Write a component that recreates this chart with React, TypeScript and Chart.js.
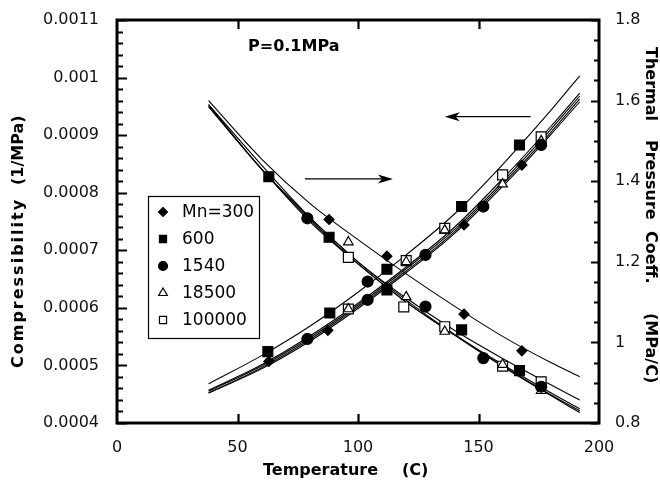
import React, { useEffect, useRef } from "react";
import { Chart, registerables } from "chart.js";

Chart.register(...registerables);

// ---------- data ----------
const seriesNames = ["Mn=300", "600", "1540", "18500", "100000"];

// Compressibility (1/MPa), left axis
const compT300 = [63, 87.5, 112, 144, 168];
const comp300 = [0.000507, 0.000561, 0.000635, 0.000744, 0.000848];
const compT600 = [62.6, 88.3, 112, 143, 167];
const comp600 = [0.000524, 0.000591, 0.000667, 0.000776, 0.000883];
const compT1540 = [79, 104, 128, 152, 176];
const comp1540 = [0.000546, 0.000614, 0.000692, 0.000776, 0.000883];
const compT18500 = [96, 120, 136, 160, 176];
const comp18500 = [0.000598, 0.00068, 0.000735, 0.000815, 0.00089];
const compT100000 = [96, 120, 136, 160, 176];
const comp100000 = [0.000598, 0.000682, 0.000738, 0.000831, 0.000897];

// Thermal pressure coefficient (MPa/C), right axis
const tpT300 = [88, 112, 144, 168];
const tp300 = [1.305, 1.214, 1.07, 0.979];
const tpT600 = [63, 88, 112, 143, 167];
const tp600 = [1.411, 1.261, 1.13, 1.031, 0.93];
const tpT1540 = [79, 104, 128, 152, 176];
const tp1540 = [1.308, 1.151, 1.089, 0.961, 0.89];
const tpT18500 = [96, 120, 136, 160, 176];
const tp18500 = [1.249, 1.113, 1.027, 0.945, 0.88];
const tpT100000 = [96, 119, 136, 160, 176];
const tp100000 = [1.211, 1.088, 1.039, 0.941, 0.902];

// fitted curves, sampled at these temperatures
const curveT = [38, 60, 80, 100, 120, 140, 160, 180, 192];
const fitComp300 = [0.000452, 0.000494, 0.000542, 0.000599, 0.000661, 0.000729, 0.000811, 0.000901, 0.000958];
const fitComp600 = [0.000468, 0.000517, 0.000568, 0.000627, 0.000692, 0.000763, 0.000849, 0.000943, 0.001003];
const fitComp1540 = [0.000452, 0.000496, 0.000545, 0.000602, 0.000664, 0.000732, 0.000815, 0.000905, 0.000963];
const fitComp18500 = [0.000455, 0.000499, 0.000548, 0.000605, 0.000668, 0.000736, 0.000819, 0.00091, 0.000968];
const fitComp100000 = [0.000457, 0.000501, 0.000551, 0.000608, 0.000671, 0.00074, 0.000824, 0.000915, 0.000973];
const fitTP300 = [1.6, 1.455, 1.345, 1.255, 1.17, 1.09, 1.015, 0.95, 0.915];
const fitTP600 = [1.59, 1.43, 1.31, 1.2, 1.11, 1.03, 0.96, 0.895, 0.857];
const fitTP1540 = [1.585, 1.43, 1.3, 1.195, 1.1, 1.02, 0.945, 0.875, 0.835];
const fitTP18500 = [1.59, 1.44, 1.31, 1.2, 1.105, 1.02, 0.942, 0.87, 0.83];
const fitTP100000 = [1.585, 1.43, 1.305, 1.195, 1.1, 1.018, 0.94, 0.868, 0.826];

// axis ticks
const xTicks = [0, 50, 100, 150, 200];
const compTicks = [0.0004, 0.0005, 0.0006, 0.0007, 0.0008, 0.0009, 0.001, 0.0011];
const tpTicks = [0.8, 1.0, 1.2, 1.4, 1.6, 1.8];

// ---------- helpers ----------
const zip = (xs: number[], ys: number[]) => xs.map((x, i) => ({ x, y: ys[i] }));

type Marker = { style: string; r: number; fill: string; lr: number };
const markers: Marker[] = [
  { style: "rectRot", r: 5, fill: "#000", lr: 4.5 },
  { style: "rect", r: 7, fill: "#000", lr: 5 },
  { style: "circle", r: 5.5, fill: "#000", lr: 4.5 },
  { style: "triangle", r: 5.5, fill: "#fff", lr: 5 },
  { style: "rect", r: 7, fill: "#fff", lr: 5 },
];

function drawMarker(ctx: CanvasRenderingContext2D, m: Marker, x: number, y: number, r: number) {
  ctx.beginPath();
  if (m.style === "circle") {
    ctx.arc(x, y, r, 0, Math.PI * 2);
  } else if (m.style === "rectRot") {
    ctx.moveTo(x, y - r);
    ctx.lineTo(x + r, y);
    ctx.lineTo(x, y + r);
    ctx.lineTo(x - r, y);
    ctx.closePath();
  } else if (m.style === "triangle") {
    for (let k = 0; k < 3; k++) {
      const a = (k * 2 * Math.PI) / 3;
      const px = x + Math.sin(a) * r;
      const py = y - Math.cos(a) * r;
      if (k === 0) ctx.moveTo(px, py);
      else ctx.lineTo(px, py);
    }
    ctx.closePath();
  } else {
    const h = r * Math.SQRT1_2;
    ctx.rect(x - h, y - h, 2 * h, 2 * h);
  }
  ctx.fillStyle = m.fill;
  ctx.fill();
  ctx.lineWidth = 1.2;
  ctx.strokeStyle = "#000";
  ctx.stroke();
}

const TITLE_FONT = "bold 16px 'DejaVu Sans'";
const TICK_FONT = { family: "'DejaVu Sans'", size: 16 };

const decorPlugin = {
  id: "decor",
  afterDraw(chart: any) {
    const { ctx, chartArea: a, scales } = chart;
    const sx = scales.x;
    const sy = scales.y;
    const sy1 = scales.y1;
    ctx.save();

    // frame
    ctx.strokeStyle = "#000";
    ctx.lineWidth = 3;
    ctx.strokeRect(a.left, a.top, a.right - a.left, a.bottom - a.top);

    // inward ticks
    ctx.lineWidth = 2.2;
    ctx.beginPath();
    for (let i = 0; i <= 35; i++) {
      const v = 0.0004 + i * 0.00002;
      const py = Math.round(sy.getPixelForValue(v)) + 0.5;
      const len = i % 5 === 0 ? 10 : 6;
      ctx.moveTo(a.left, py);
      ctx.lineTo(a.left + len, py);
    }
    for (let i = 0; i <= 20; i++) {
      const v = 0.8 + i * 0.05;
      const py = Math.round(sy1.getPixelForValue(v)) + 0.5;
      const len = i % 4 === 0 ? 8 : 5;
      ctx.moveTo(a.right, py);
      ctx.lineTo(a.right - len, py);
    }
    for (const v of [50, 100, 150]) {
      const px = Math.round(sx.getPixelForValue(v)) + 0.5;
      ctx.moveTo(px, a.bottom);
      ctx.lineTo(px, a.bottom - 9);
      ctx.moveTo(px, a.top);
      ctx.lineTo(px, a.top + 9);
    }
    ctx.stroke();

    // arrows (placed in data space)
    const arrow = (t0: number, t1: number, yv: number, scale: any) => {
      const x0 = sx.getPixelForValue(t0);
      const x1 = sx.getPixelForValue(t1);
      const y = scale.getPixelForValue(yv);
      const dir = Math.sign(x1 - x0);
      ctx.lineWidth = 1.3;
      ctx.beginPath();
      ctx.moveTo(x0, y);
      ctx.lineTo(x1 - dir * 10, y);
      ctx.stroke();
      ctx.beginPath();
      ctx.moveTo(x1, y);
      ctx.lineTo(x1 - dir * 15, y - 4.5);
      ctx.lineTo(x1 - dir * 11, y);
      ctx.lineTo(x1 - dir * 15, y + 4.5);
      ctx.closePath();
      ctx.fillStyle = "#000";
      ctx.fill();
    };
    arrow(171.6, 136, 0.000932, sy);
    arrow(78, 114.5, 0.000824, sy);

    // annotation
    ctx.fillStyle = "#000";
    ctx.font = TITLE_FONT;
    ctx.textAlign = "left";
    ctx.textBaseline = "middle";
    ctx.fillText("P=0.1MPa", 248, 47);

    // legend box
    ctx.lineWidth = 1.2;
    ctx.strokeRect(148.5, 196.5, 111, 142);
    ctx.font = "17px 'DejaVu Sans'";
    const ly = [212, 239, 266, 293, 320];
    seriesNames.forEach((n, i) => {
      drawMarker(ctx, markers[i], 163, ly[i], markers[i].lr);
      ctx.fillStyle = "#000";
      ctx.fillText(n, 182, ly[i] + 1);
    });

    // axis titles
    ctx.font = TITLE_FONT;
    ctx.fillStyle = "#000";
    ctx.fillText("Temperature", 263, 471);
    ctx.fillText("(C)", 402, 471);

    const rot = (text: string, x: number, y: number, ang: number, spacing = "0px") => {
      ctx.save();
      ctx.translate(x, y);
      ctx.rotate(ang);
      (ctx as any).letterSpacing = spacing;
      ctx.textAlign = "left";
      ctx.textBaseline = "middle";
      ctx.fillText(text, 0, 0);
      ctx.restore();
    };
    rot("Compressibility", 19, 368, -Math.PI / 2, "2px");
    rot("(1/MPa)", 19, 185, -Math.PI / 2);
    rot("Thermal", 650, 47, Math.PI / 2);
    rot("Pressure", 650, 140, Math.PI / 2);
    rot("Coeff.", 650, 231, Math.PI / 2);
    rot("(MPa/C)", 650, 313, Math.PI / 2);

    ctx.restore();
  },
};

export default function App() {
  const ref = useRef<HTMLCanvasElement | null>(null);

  useEffect(() => {
    document.body.style.margin = "0";
    const canvas = ref.current;
    if (!canvas) return;

    const compPts = [
      zip(compT300, comp300),
      zip(compT600, comp600),
      zip(compT1540, comp1540),
      zip(compT18500, comp18500),
      zip(compT100000, comp100000),
    ];
    const tpPts = [
      zip(tpT300, tp300),
      zip(tpT600, tp600),
      zip(tpT1540, tp1540),
      zip(tpT18500, tp18500),
      zip(tpT100000, tp100000),
    ];
    const compFits = [fitComp300, fitComp600, fitComp1540, fitComp18500, fitComp100000];
    const tpFits = [fitTP300, fitTP600, fitTP1540, fitTP18500, fitTP100000];

    const pointSets: any[] = [];
    seriesNames.forEach((n, i) => {
      const m = markers[i];
      const base = {
        showLine: false,
        pointStyle: m.style,
        pointRadius: m.r,
        pointBackgroundColor: m.fill,
        pointBorderColor: "#000",
        pointBorderWidth: 1.2,
        pointHoverRadius: m.r,
      };
      pointSets.push({ ...base, label: n + " comp", data: compPts[i], yAxisID: "y" });
      pointSets.push({ ...base, label: n + " tp", data: tpPts[i], yAxisID: "y1" });
    });
    const lineSets: any[] = [];
    seriesNames.forEach((n, i) => {
      const lb = { showLine: true, pointRadius: 0, borderColor: "#000", borderWidth: 1.1, cubicInterpolationMode: "monotone" };
      lineSets.push({ ...lb, label: n + " fit comp", data: zip(curveT, compFits[i]), yAxisID: "y" });
      lineSets.push({ ...lb, label: n + " fit tp", data: zip(curveT, tpFits[i]), yAxisID: "y1" });
    });

    const chart = new Chart(canvas, {
      type: "scatter",
      data: { datasets: [...pointSets, ...lineSets] },
      options: {
        animation: false,
        responsive: false,
        maintainAspectRatio: false,
        layout: { padding: { top: 20, left: 0, right: 0, bottom: 0 } },
        plugins: { legend: { display: false }, tooltip: { enabled: false } },
        events: [],
        scales: {
          x: {
            type: "linear",
            min: 0,
            max: 200,
            afterBuildTicks: (s: any) => {
              s.ticks = xTicks.map((v) => ({ value: v }));
            },
            afterFit: (s: any) => {
              s.height = 60;
            },
            grid: { display: false },
            border: { display: false },
            ticks: { font: TICK_FONT, color: "#111", padding: 7, maxRotation: 0, autoSkip: false },
          },
          y: {
            type: "linear",
            position: "left",
            min: 0.0004,
            max: 0.0011,
            afterBuildTicks: (s: any) => {
              s.ticks = compTicks.map((v) => ({ value: v }));
            },
            afterFit: (s: any) => {
              s.width = 117;
            },
            grid: { display: false },
            border: { display: false },
            ticks: {
              font: TICK_FONT,
              color: "#111",
              padding: 10,
              autoSkip: false,
              callback: (v: any) => String(Number(Number(v).toFixed(5))),
            },
          },
          y1: {
            type: "linear",
            position: "right",
            min: 0.8,
            max: 1.8,
            afterBuildTicks: (s: any) => {
              s.ticks = tpTicks.map((v) => ({ value: v }));
            },
            afterFit: (s: any) => {
              s.width = 61;
            },
            grid: { display: false },
            border: { display: false },
            ticks: {
              font: TICK_FONT,
              color: "#111",
              padding: 8,
              autoSkip: false,
              callback: (v: any) => String(Number(Number(v).toFixed(1))),
            },
          },
        },
      },
      plugins: [decorPlugin],
    });

    return () => chart.destroy();
  }, []);

  return <canvas ref={ref} width={660} height={483} style={{ display: "block" }} />;
}
